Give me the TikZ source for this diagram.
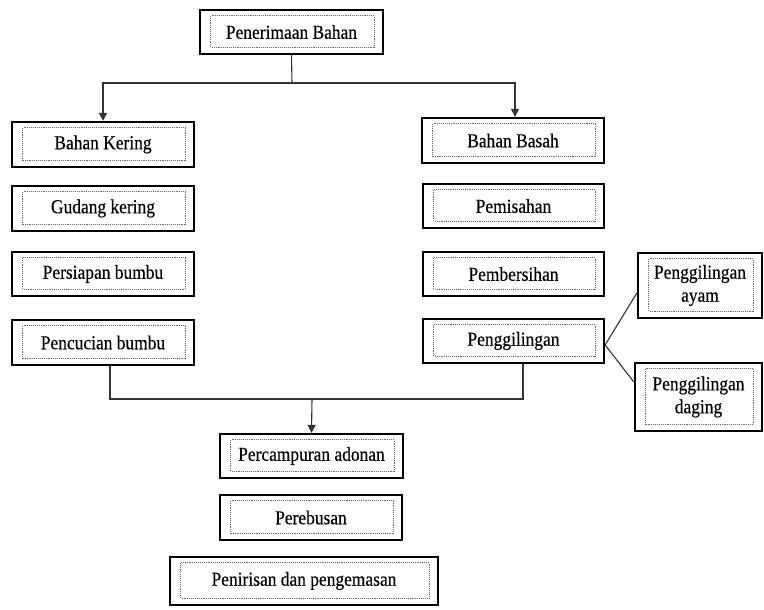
\documentclass[tikz,border=0pt]{standalone}
\usepackage{fontspec}
\setmainfont{Liberation Serif}[FakeStretch=0.88,FakeBold=0.3]
\usetikzlibrary{arrows.meta}
\tikzset{
  box/.style={draw=black, line width=2.3pt, fill=white, align=center,
    inner sep=0pt, font=\fontsize{19.8}{23}\selectfont},
  inner/.style={draw=black!60, densely dotted, line width=0.9pt},
  conn/.style={draw=black!80, line width=1.1pt},
  arr/.style={conn, -{Triangle[length=8pt,width=8pt]}}
}
\begin{document}
\begin{tikzpicture}[x=1pt,y=-1pt]
\useasboundingbox (0,0) rectangle (764,610);
\node[box, minimum width=183pt, minimum height=44pt] (top) at (291.5,32) {Penerimaan Bahan};
\node[box, minimum width=182pt, minimum height=45pt] (bk) at (103,144.5) {Bahan Kering};
\node[box, minimum width=182pt, minimum height=45pt] (gk) at (103,208.5) {Gudang kering};
\node[box, minimum width=182pt, minimum height=44pt] (pb) at (103,274) {Persiapan bumbu};
\node[box, minimum width=182pt, minimum height=45pt] (pc) at (103,342.5) {Pencucian bumbu};
\node[box, minimum width=182pt, minimum height=45pt] (bb) at (513,140.5) {Bahan Basah};
\node[box, minimum width=181pt, minimum height=44pt] (pm) at (513.5,206) {Pemisahan};
\node[box, minimum width=181pt, minimum height=44pt] (pbh) at (513.5,274) {Pembersihan};
\node[box, minimum width=181pt, minimum height=44pt] (pg) at (513.5,341) {Penggilingan};
\node[box, minimum width=124pt, minimum height=65pt] (ay) at (700,285.5) {Penggilingan\\ayam};
\node[box, minimum width=127pt, minimum height=68pt] (dg) at (698.5,397) {Penggilingan\\daging};
\node[box, minimum width=183pt, minimum height=44pt] (pa) at (311.5,456) {Percampuran adonan};
\node[box, minimum width=182pt, minimum height=45pt] (pr) at (311,517.5) {Perebusan};
\node[box, minimum width=268pt, minimum height=48pt] (pn) at (304,581) {Penirisan dan pengemasan};
\foreach \n in {top,bk,gk,pb,pc,bb,pm,pbh,pg,ay,dg,pa,pr,pn}{
  \draw[inner] ([shift={(12pt,-7pt)}]\n.north west) rectangle ([shift={(-10pt,8pt)}]\n.south east);
}
\coordinate (s1) at (292,83);
\draw[conn] (top.south) -- (s1);
\draw[arr] (s1) -| (bk.north);
\draw[arr] (s1) -| ([xshift=2pt]bb.north);
\coordinate (m) at (312,399);
\draw[conn] ([xshift=7pt]pc.south) |- (m) -| ([xshift=9.5pt]pg.south);
\draw[arr] (m) -- (pa.north);
\draw[conn] ([yshift=-4pt]pg.east) -- ([yshift=-7.5pt]ay.west);
\draw[conn] ([yshift=-4pt]pg.east) -- ([yshift=15pt]dg.west);
\end{tikzpicture}
\end{document}
